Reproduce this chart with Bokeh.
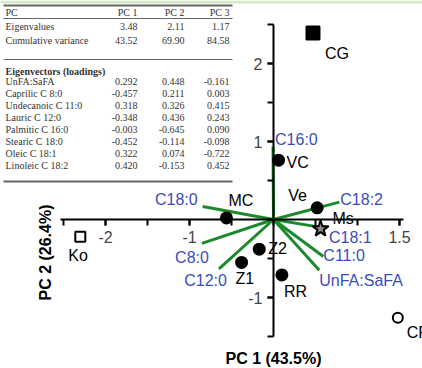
import math

from bokeh.core.properties import value
from bokeh.embed import file_html
from bokeh.models import (BoxAnnotation, ColumnDataSource, FixedTicker,
                          LinearAxis, NumeralTickFormatter, Range1d)
from bokeh.plotting import figure
from bokeh.resources import INLINE

# ---------------------------------------------------------------- data
pc_names = ["PC 1", "PC 2", "PC 3"]
eigenvalues = [3.48, 2.11, 1.17]
cumulative_variance = [43.52, 69.90, 84.58]

variable_names = ["UnFA:SaFA", "Caprilic C 8:0", "Undecanoic C 11:0",
                  "Lauric C 12:0", "Palmitic C 16:0", "Stearic C 18:0",
                  "Oleic C 18:1", "Linoleic C 18:2"]
variable_short = ["UnFA:SaFA", "C8:0", "C11:0", "C12:0", "C16:0",
                  "C18:0", "C18:1", "C18:2"]
loading_pc1 = [0.292, -0.457, 0.318, -0.348, -0.003, -0.452, 0.322, 0.420]
loading_pc2 = [0.448, 0.211, 0.326, 0.436, -0.645, -0.114, 0.074, -0.153]
loading_pc3 = [-0.161, 0.003, 0.415, 0.243, 0.090, -0.098, -0.722, 0.452]

samples = ["CG", "VC", "Ve", "Ms", "MC", "Z2", "Z1", "RR", "Ko", "CR"]
score_pc1 = [0.47, 0.06, 0.52, 0.56, -0.56, -0.17, -0.38, 0.10, -2.30, 1.48]
score_pc2 = [2.39, 0.76, 0.15, -0.12, 0.02, -0.38, -0.55, -0.71, -0.22, -1.26]

# ---------------------------------------------------------------- geometry
W, H = 422, 368
X0, Y0 = 273, 219          # pixel position of the origin
SX, SY = 84, 78            # pixels per unit on PC1 / PC2


def px_x(px):
    return (px - X0) / SX


def px_y(py):
    return (Y0 - py) / SY


p = figure(width=W, height=H, output_backend="svg", toolbar_location=None,
           x_range=Range1d(px_x(0), px_x(W)), y_range=Range1d(px_y(H), px_y(0)),
           x_axis_location=None, y_axis_location=None, min_border=0,
           outline_line_color=None, background_fill_color="white")
p.grid.visible = False

SANS = value("Liberation Sans")
SERIF = value("Liberation Serif")
BLUE = "#3a4cbc"
GREEN = "#1b8a2c"

# thin band along the top edge
p.add_layout(BoxAnnotation(bottom=px_y(3), fill_color="#d9e8cc",
                           fill_alpha=1, line_color=None))

# ---------------------------------------------------------------- axes through the origin
axis_style = dict(axis_line_width=2, major_tick_line_width=2,
                  minor_tick_line_width=2, major_tick_in=0, major_tick_out=6,
                  minor_tick_in=0, minor_tick_out=6,
                  major_label_text_font="Liberation Sans",
                  major_label_text_font_size="16px",
                  major_label_standoff=5)
xaxis = LinearAxis(fixed_location=0, bounds=(-2.53, 1.55),
                   ticker=FixedTicker(ticks=[-2, -1, 1.5],
                                      minor_ticks=[-2.5, -2, -1.5, -1, -0.5,
                                                   0, 0.5, 1, 1.5]),
                   formatter=NumeralTickFormatter(format="0.[0]"),
                   **axis_style)
yaxis = LinearAxis(fixed_location=0, bounds=(-1.5, 2.5),
                   ticker=FixedTicker(ticks=[-1, 1, 2],
                                      minor_ticks=[-1.5, -1, -0.5, 0, 0.5,
                                                   1, 1.5, 2, 2.5]),
                   formatter=NumeralTickFormatter(format="0"),
                   **axis_style)
p.add_layout(xaxis, "below")
p.add_layout(yaxis, "left")

p.text(x=[0], y=[px_y(358)],
       text=[f"PC 1 ({cumulative_variance[0]:.1f}%)"],
       text_font=SANS, text_font_size="16px", text_font_style="bold",
       text_align="center", text_baseline="middle", text_color="black")
p.text(x=[px_x(45)], y=[px_y(252)],
       text=[f"PC 2 ({cumulative_variance[1] - cumulative_variance[0]:.1f}%)"],
       angle=math.pi / 2,
       text_font=SANS, text_font_size="16px", text_font_style="bold",
       text_align="center", text_baseline="middle", text_color="black")

# ---------------------------------------------------------------- loading vectors
# correlation biplot: loadings scaled by sqrt(eigenvalue), PC2 drawn reversed
vec_x = [l * math.sqrt(eigenvalues[0]) for l in loading_pc1]
vec_y = [-l * math.sqrt(eigenvalues[1]) for l in loading_pc2]
vec_src = ColumnDataSource(dict(
    x=vec_x, y=vec_y, name=variable_short,
    dx=[0, 7, 0, 8, 2, -5, 5, 1],
    dy=[10, 14, -1, 12, -7, -7, 10, -3],
    align=["left", "right", "left", "right", "left", "right", "left", "left"],
))
p.segment(x0=0, y0=0, x1="x", y1="y", source=vec_src,
          line_color=GREEN, line_width=3)
p.text(x="x", y="y", text="name", source=vec_src, x_offset="dx",
       y_offset="dy", text_align="align", text_baseline="middle",
       text_font=SANS, text_font_size="16px", text_color=BLUE)

# ---------------------------------------------------------------- sample scores
marker_style = {
    "CG": ("square", "black", 13),
    "Ms": ("star", "#8a8a8a", 17),
    "Ko": ("square", "white", 10),
    "CR": ("circle", "white", 10),
}
default_style = ("circle", "black", 11)
score_src = ColumnDataSource(dict(
    x=score_pc1, y=score_pc2, name=samples,
    marker=[marker_style.get(s, default_style)[0] for s in samples],
    fill=[marker_style.get(s, default_style)[1] for s in samples],
    size=[marker_style.get(s, default_style)[2] for s in samples],
    dx=[12, 8, -29, 12, 2, 9, -6, 2, -12, 9],
    dy=[20, 2, -12, -10, -17, -1, 16, 17, 19, 15],
))
p.scatter(x="x", y="y", marker="marker", size="size", source=score_src,
          fill_color="fill", line_color="black", line_width=2)
p.text(x="x", y="y", text="name", source=score_src, x_offset="dx",
       y_offset="dy", text_align="left", text_baseline="middle",
       text_font=SANS, text_font_size="16px", text_color="black")

# ---------------------------------------------------------------- summary table
TXT = "#333333"
RULE = "#666666"
col_right = [137, 184, 229]
label_left = 5


def table_row(py, label, cells, bold=False):
    p.text(x=[px_x(label_left)], y=[px_y(py)], text=[label],
           text_font=SERIF, text_font_size="10px",
           text_font_style="bold" if bold else "normal",
           text_align="left", text_baseline="middle", text_color=TXT)
    if cells:
        p.text(x=[px_x(c) for c in col_right], y=[px_y(py)] * len(cells),
               text=cells, text_font=SERIF, text_font_size="10px",
               text_align="right", text_baseline="middle", text_color=TXT)


def rule(py, width):
    p.segment(x0=[px_x(3)], y0=[px_y(py)], x1=[px_x(232)], y1=[px_y(py)],
              line_color=RULE, line_width=width)


rule(5, 2)
table_row(12, "PC", pc_names)
rule(18, 1)
table_row(26, "Eigenvalues", [f"{v:.2f}" for v in eigenvalues])
table_row(40, "Cumulative variance", [f"{v:.2f}" for v in cumulative_variance])
rule(59, 1)
table_row(71, "Eigenvectors (loadings)", None, bold=True)
for i, name in enumerate(variable_names):
    table_row(81 + 12 * i, name,
              [f"{loading_pc1[i]:.3f}", f"{loading_pc2[i]:.3f}",
               f"{loading_pc3[i]:.3f}"])
rule(181, 2)

open("out.html", "w").write(file_html(p, INLINE))
